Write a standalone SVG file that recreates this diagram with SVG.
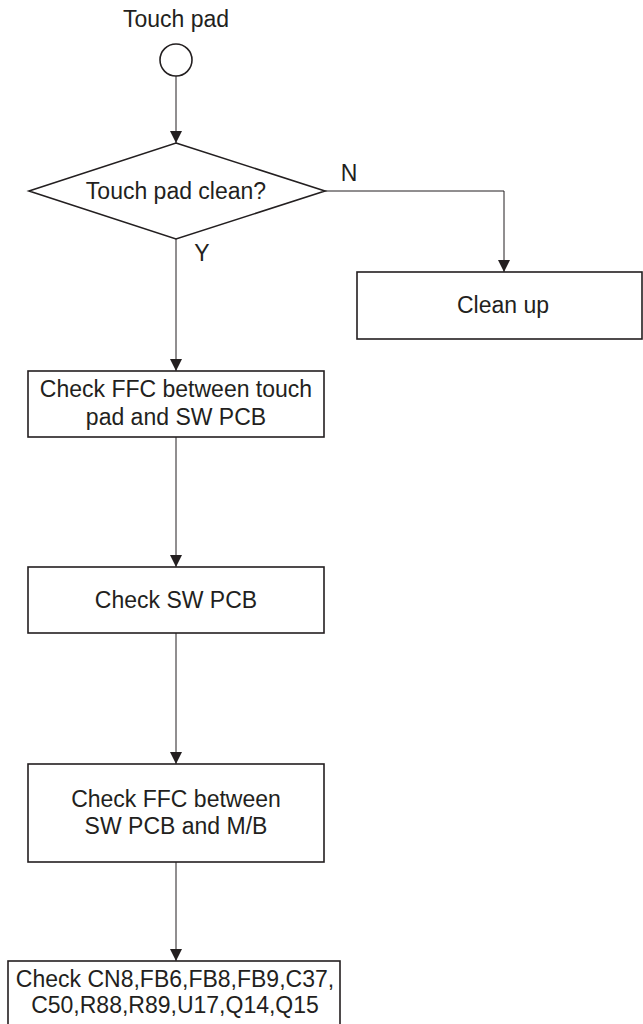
<svg xmlns="http://www.w3.org/2000/svg" width="643" height="1024" viewBox="0 0 643 1024">
<style>
text{font-family:"Liberation Sans",Arial,sans-serif;font-size:23px;fill:#231f20;text-anchor:middle}
.n{fill:#fff;stroke:#231f20;stroke-width:1.6}
.c{fill:none;stroke:#231f20;stroke-width:1}
</style>
<defs>
<marker id="ah" markerWidth="12" markerHeight="12" refX="10" refY="5" orient="auto" markerUnits="userSpaceOnUse" viewBox="0 0 10 10">
<path d="M0,0 L10,5 L0,10 z" fill="#231f20"/>
</marker>
</defs>
<rect width="643" height="1024" fill="#fff"/>
<g id="connectors">
<line class="c" x1="176" y1="76" x2="176" y2="143" marker-end="url(#ah)"/>
<polyline class="c" points="325,191 504,191 504,272" marker-end="url(#ah)"/>
<line class="c" x1="176" y1="239" x2="176" y2="371" marker-end="url(#ah)"/>
<line class="c" x1="176" y1="437" x2="176" y2="567" marker-end="url(#ah)"/>
<line class="c" x1="176" y1="633" x2="176" y2="764" marker-end="url(#ah)"/>
<line class="c" x1="176" y1="862" x2="176" y2="961" marker-end="url(#ah)"/>
<text x="349" y="181">N</text>
<text x="202" y="261">Y</text>
</g>
<g id="start">
<text x="176" y="27">Touch pad</text>
<circle class="n" cx="176" cy="60" r="16"/>
</g>
<g id="decision">
<polygon class="n" points="176,143 325,191 176,239 29,191"/>
<text x="176" y="199">Touch pad clean?</text>
</g>
<g id="cleanup">
<rect class="n" x="357" y="272" width="285" height="67"/>
<text x="503" y="313">Clean up</text>
</g>
<g id="box1">
<rect class="n" x="28" y="371" width="296" height="66"/>
<text x="176" y="397">Check FFC between touch</text>
<text x="176" y="425">pad and SW PCB</text>
</g>
<g id="box2">
<rect class="n" x="28" y="567" width="296" height="66"/>
<text x="176" y="608">Check SW PCB</text>
</g>
<g id="box3">
<rect class="n" x="28" y="764" width="296" height="98"/>
<text x="176" y="807">Check FFC between</text>
<text x="176" y="834">SW PCB and M/B</text>
</g>
<g id="box4">
<rect class="n" x="8" y="961" width="332" height="80"/>
<text x="175" y="987">Check CN8,FB6,FB8,FB9,C37,</text>
<text x="175" y="1013">C50,R88,R89,U17,Q14,Q15</text>
</g>
</svg>
